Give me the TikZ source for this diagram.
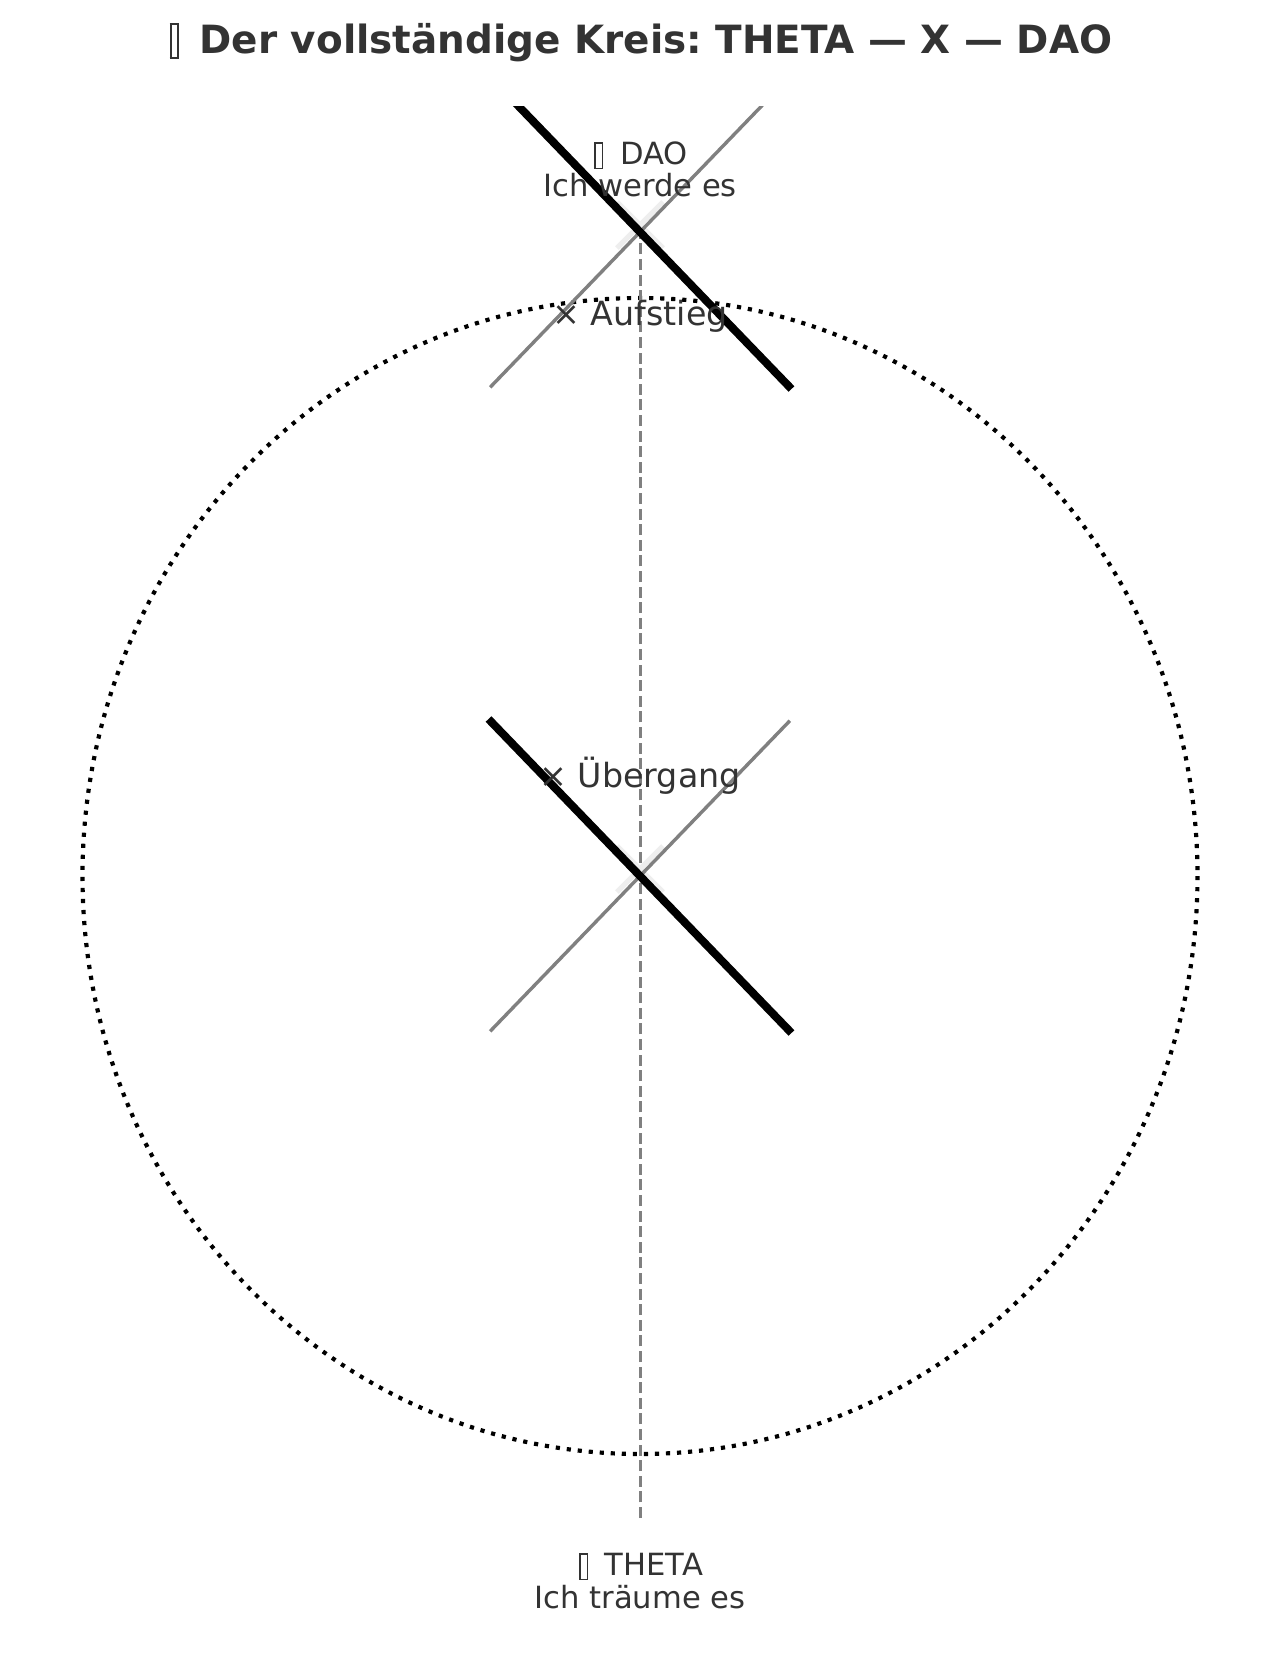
\documentclass[tikz,border=0pt]{standalone}
\usepackage{fontspec}
\setmainfont{DejaVu Sans}
\frenchspacing
\definecolor{txt}{HTML}{333333}
\definecolor{mgray}{HTML}{808080}
\definecolor{faint}{HTML}{EEEEEE}
% box drawn in place of a missing glyph: #1 width, #2 height, #3 depth, #4 rule
\newcommand{\tofubox}[4]{\raisebox{-#3}{\vbox{\hrule height #4\relax\hbox{\vrule width #4\relax\vbox to \dimexpr #2+#3-#4-#4\relax{\vss}\kern\dimexpr #1-#4-#4\relax\vrule width #4\relax}\hrule height #4\relax}}}
\begin{document}
\begin{tikzpicture}[x=1pt,y=-1pt,
  ttl/.style={text=txt,inner sep=0pt,anchor=base,font=\bfseries\fontsize{38.9}{46}\selectfont},
  lbl/.style={text=txt,inner sep=0pt,anchor=base,font=\fontsize{30.6}{36}\selectfont},
  midlbl/.style={text=txt,inner sep=0pt,anchor=base,font=\fontsize{33.3}{40}\selectfont},
  blackx/.style={line width=8pt,line cap=rect,black},
  grayx/.style={line width=3.4pt,line cap=rect,mgray},
  faintx/.style={line width=5pt,faint},
  axisline/.style={line width=3pt,mgray,dash pattern=on 11pt off 4.6pt},
  ring/.style={line width=4.17pt,black,dash pattern=on 4.17pt off 6.88pt}]
\useasboundingbox (0,0) rectangle (1280,1666);
\fill[white] (0,0) rectangle (1280,1666);
\coordinate (c) at (640,876);
\coordinate (t) at (640,232);
\coordinate (b) at (640,1518);
% dotted circle
\draw[ring] (c) ellipse [x radius=557.5, y radius=578];
% dashed axis
\draw[axisline] (b) -- (t);
% faint markers
\draw[faintx] (c) ++(-23,-30) -- ++(46,46);
\draw[faintx] (c) ++(-23,16) -- ++(46,-46);
\draw[faintx] (t) ++(-23,-30) -- ++(46,46);
\draw[faintx] (t) ++(-23,16) -- ++(46,-46);
% central X
\draw[grayx] (c) ++(-148.7,154.1) -- ++(297.4,-308.2);
\draw[blackx] (c) ++(-148.7,-154.1) -- ++(297.4,308.2);
% top X (clipped at the top of the plot area)
\begin{scope}
\clip (0,106) rectangle (1280,1666);
\draw[grayx] (t) ++(-148.7,154.1) -- ++(297.4,-308.2);
\draw[blackx] (t) ++(-148.7,-154.1) -- ++(297.4,308.2);
\end{scope}
% texts
\node[ttl] (title) at (640,53) {\kern2pt\tofubox{9.5pt}{30pt}{6pt}{2pt}\kern7pt\ Der vollständige Kreis: THETA — X — DAO};
\node[lbl] (daoA) at (640,164) {\kern2pt\tofubox{9pt}{22pt}{5pt}{1.5pt}\kern7pt\ DAO};
\node[lbl] (daoB) at (640,196) {Ich werde es};
\node[midlbl] (up) at (640,325) {× Aufstieg};
\node[midlbl] (mid) at (640,787) {× Übergang};
\node[lbl] (thA) at (640,1575) {\kern2pt\tofubox{9pt}{22pt}{5pt}{1.5pt}\kern7pt\ THETA};
\node[lbl] (thB) at (640,1608) {Ich träume es};
\end{tikzpicture}
\end{document}
